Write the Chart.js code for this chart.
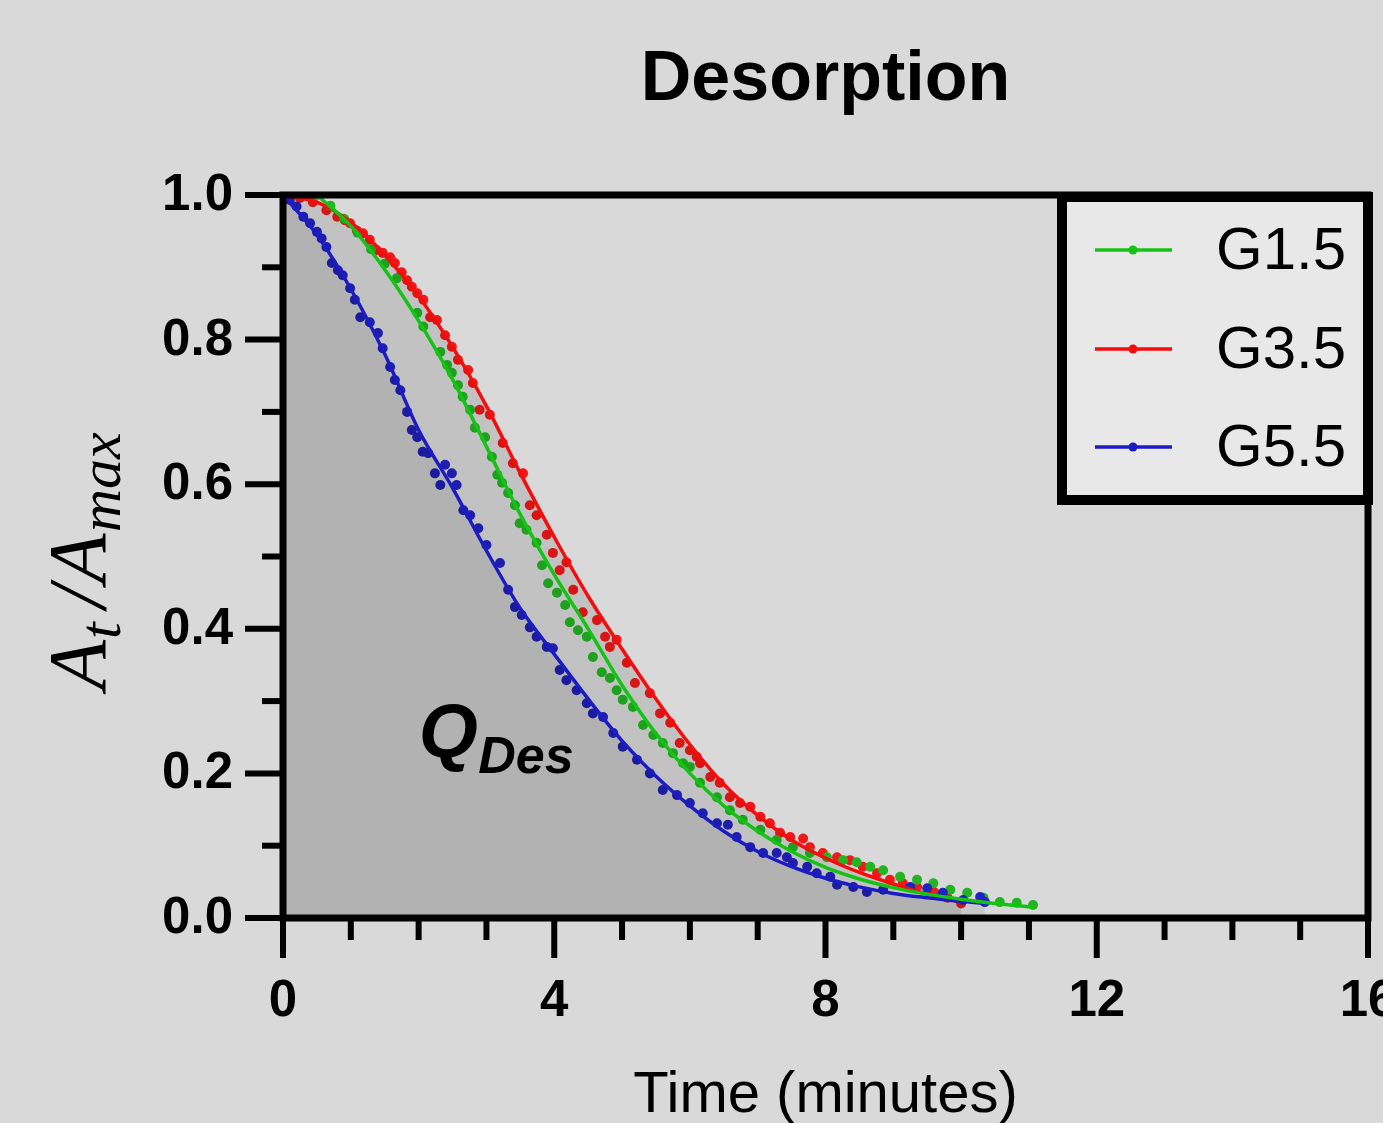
<!DOCTYPE html>
<html>
<head>
<meta charset="utf-8">
<title>Desorption</title>
<script src="https://cdn.jsdelivr.net/npm/chart.js@4.4.1/dist/chart.umd.min.js"></script>
<style>
  html, body { margin: 0; padding: 0; background: #d9d9d9; }
  canvas { display: block; }
</style>
</head>
<body>
<canvas id="myChart" width="1383" height="1123"></canvas>
<script>
'use strict';

// ---- data ----
var seriesNames = ['G1.5', 'G3.5', 'G5.5'];
var xTickLabels = [0, 4, 8, 12, 16];
var yTickLabels = ['0.0', '0.2', '0.4', '0.6', '0.8', '1.0'];

// measured points [time (min), At/Amax]
var g15Dots = [[0.5,1.0],[0.7,0.985],[0.9,0.967],[1.1,0.948],[1.3,0.925],[1.5,0.905],[1.68,0.885],[1.98,0.837],[2.07,0.818],[2.32,0.783],[2.42,0.765],[2.49,0.754],[2.58,0.737],[2.65,0.721],[2.76,0.703],[2.83,0.678],[2.98,0.665],[3.08,0.638],[3.16,0.613],[3.23,0.602],[3.32,0.588],[3.42,0.571],[3.49,0.546],[3.59,0.537],[3.74,0.519],[3.82,0.488],[3.91,0.463],[4.04,0.45],[4.16,0.433],[4.23,0.409],[4.35,0.398],[4.48,0.389],[4.57,0.361],[4.7,0.34],[4.82,0.332],[4.92,0.315],[5.01,0.302],[5.16,0.292],[5.31,0.267],[5.46,0.253],[5.6,0.242],[5.75,0.228],[5.9,0.214],[6.0,0.209],[6.15,0.187],[6.4,0.167],[6.59,0.149],[6.78,0.136],[7.04,0.122],[7.28,0.108],[7.52,0.098],[7.77,0.09],[8.02,0.084],[8.26,0.08],[8.46,0.077],[8.66,0.071],[8.85,0.066],[9.1,0.057],[9.35,0.053],[9.59,0.048],[9.84,0.039],[10.09,0.035],[10.33,0.028],[10.57,0.022],[10.82,0.021],[11.06,0.018]];
var g35Dots = [[0.06,0.997],[0.25,0.996],[0.44,0.99],[0.64,0.979],[0.8,0.97],[0.91,0.965],[0.99,0.961],[1.09,0.951],[1.18,0.947],[1.28,0.938],[1.38,0.924],[1.47,0.92],[1.58,0.914],[1.65,0.906],[1.75,0.893],[1.83,0.882],[1.9,0.873],[1.98,0.864],[2.07,0.855],[2.17,0.831],[2.27,0.827],[2.39,0.806],[2.49,0.79],[2.58,0.772],[2.73,0.758],[2.8,0.74],[2.9,0.703],[3.05,0.696],[3.24,0.657],[3.39,0.629],[3.54,0.615],[3.64,0.571],[3.74,0.557],[3.89,0.53],[3.98,0.505],[4.08,0.481],[4.18,0.492],[4.28,0.454],[4.42,0.423],[4.63,0.412],[4.75,0.389],[4.82,0.375],[4.92,0.385],[5.07,0.353],[5.19,0.325],[5.41,0.311],[5.56,0.283],[5.71,0.27],[5.85,0.242],[6.0,0.232],[6.1,0.223],[6.15,0.214],[6.3,0.195],[6.44,0.187],[6.59,0.167],[6.74,0.159],[6.89,0.154],[7.04,0.14],[7.18,0.131],[7.33,0.118],[7.48,0.112],[7.67,0.11],[7.77,0.098],[7.96,0.09],[8.17,0.084],[8.36,0.08],[8.55,0.071],[8.76,0.062],[8.95,0.053],[9.14,0.048],[9.35,0.043],[9.6,0.036],[9.8,0.028],[10.0,0.02]];
var g55Dots = [[0,1.0],[0.1,0.993],[0.2,0.984],[0.3,0.97],[0.4,0.961],[0.5,0.949],[0.57,0.94],[0.64,0.928],[0.72,0.906],[0.81,0.896],[0.88,0.889],[0.99,0.871],[1.06,0.855],[1.14,0.831],[1.28,0.824],[1.4,0.809],[1.47,0.788],[1.58,0.762],[1.65,0.744],[1.73,0.73],[1.83,0.7],[1.9,0.675],[1.98,0.665],[2.06,0.645],[2.14,0.643],[2.24,0.615],[2.32,0.599],[2.39,0.627],[2.49,0.615],[2.56,0.599],[2.66,0.564],[2.76,0.557],[2.88,0.539],[3.0,0.516],[3.2,0.491],[3.32,0.454],[3.42,0.43],[3.52,0.419],[3.64,0.402],[3.74,0.389],[3.89,0.375],[3.98,0.373],[4.08,0.343],[4.18,0.329],[4.33,0.315],[4.48,0.297],[4.57,0.283],[4.72,0.278],[4.87,0.256],[5.01,0.237],[5.22,0.219],[5.41,0.2],[5.6,0.177],[5.81,0.17],[6.0,0.159],[6.19,0.145],[6.4,0.131],[6.56,0.129],[6.69,0.112],[6.89,0.098],[7.08,0.09],[7.28,0.09],[7.43,0.084],[7.52,0.076],[7.73,0.071],[7.87,0.062],[8.07,0.057],[8.17,0.046],[8.41,0.043],[8.61,0.036],[8.85,0.039],[9.25,0.043],[9.5,0.041],[9.73,0.035],[10.03,0.025],[10.28,0.029],[10.35,0.022]];

// fitted curves as drawn in the figure
var g15Fit = [[0.5,1.0],[1.0,0.957],[1.5,0.897],[2.0,0.826],[2.5,0.745],[3.0,0.652],[3.5,0.558],[4.0,0.475],[4.5,0.4],[5.0,0.322],[5.5,0.255],[6.0,0.2],[6.5,0.155],[7.0,0.12],[7.5,0.092],[8.0,0.07],[8.5,0.054],[9.0,0.042],[9.5,0.033],[10.0,0.026],[10.5,0.02],[11.06,0.015]];
var g35Fit = [[0,1.0],[0.5,0.99],[1.0,0.962],[1.5,0.917],[2.0,0.86],[2.5,0.79],[3.0,0.708],[3.5,0.615],[4.0,0.527],[4.5,0.445],[5.0,0.372],[5.5,0.303],[6.0,0.24],[6.5,0.185],[7.0,0.142],[7.5,0.108],[8.0,0.083],[8.5,0.063],[9.0,0.047],[9.5,0.033],[10.0,0.022]];
var g55Fit = [[0,1.0],[0.5,0.945],[1.0,0.87],[1.5,0.78],[2.0,0.675],[2.5,0.595],[3.0,0.508],[3.5,0.428],[4.0,0.365],[4.5,0.303],[5.0,0.245],[5.5,0.196],[6.0,0.155],[6.5,0.12],[7.0,0.092],[7.5,0.071],[8.0,0.055],[8.5,0.043],[9.0,0.034],[9.5,0.028],[10.0,0.023],[10.35,0.02]];

var lineColors = ['#14c314', '#f50d0d', '#1c1cc4'];
var dotColors = ['#22b422', '#f01818', '#2222c0'];

function toXY(arr) {
  return arr.map(function (p) { return { x: p[0], y: p[1] }; });
}

function dots(i, data, order) {
  return {
    label: seriesNames[i] + ' data',
    data: toXY(data),
    showLine: false,
    pointRadius: 5,
    pointBorderWidth: 0,
    pointBackgroundColor: dotColors[i],
    order: order
  };
}

function fit(i, data, order, fillColor) {
  return {
    label: seriesNames[i],
    data: toXY(data),
    showLine: true,
    borderColor: lineColors[i],
    borderWidth: 3.5,
    pointRadius: 0,
    tension: 0.4,
    cubicInterpolationMode: 'monotone',
    fill: fillColor ? 'origin' : false,
    backgroundColor: fillColor || 'transparent',
    order: order
  };
}

var FONT = 'Arial, "Liberation Sans", sans-serif';

// axes, ticks, labels, legend and annotation
var decor = {
  id: 'decor',
  beforeDraw: function (chart) {
    var c = chart.ctx;
    c.save();
    c.fillStyle = '#d9d9d9';
    c.fillRect(0, 0, chart.width, chart.height);
    c.restore();
  },
  afterDatasetsDraw: function (chart) {
    var c = chart.ctx;
    var a = chart.chartArea;
    var xs = chart.scales.x;
    var ys = chart.scales.y;
    c.save();
    c.fillStyle = '#000';
    c.strokeStyle = '#000';

    // Q_Des
    c.textAlign = 'left';
    c.textBaseline = 'alphabetic';
    c.font = 'italic bold 76px ' + FONT;
    c.fillText('Q', xs.getPixelForValue(2.0), ys.getPixelForValue(0.222));
    c.font = 'italic bold 52px ' + FONT;
    c.fillText('Des', xs.getPixelForValue(2.88), ys.getPixelForValue(0.2));

    // frame
    c.lineWidth = 7;
    c.strokeRect(a.left, a.top, a.right - a.left, a.bottom - a.top);

    // ticks
    c.lineWidth = 6;
    c.lineCap = 'butt';
    var v, px, major;
    for (v = 0; v <= 16; v++) {
      px = xs.getPixelForValue(v);
      major = v % 4 === 0;
      c.beginPath();
      c.moveTo(px, a.bottom);
      c.lineTo(px, a.bottom + (major ? 40 : 22));
      c.stroke();
    }
    for (v = 0; v <= 10; v++) {
      px = ys.getPixelForValue(v / 10);
      major = v % 2 === 0;
      c.beginPath();
      c.moveTo(a.left, px);
      c.lineTo(a.left - (major ? 38 : 21), px);
      c.stroke();
    }

    // tick labels
    c.font = 'bold 51px ' + FONT;
    c.textAlign = 'center';
    c.textBaseline = 'middle';
    xTickLabels.forEach(function (t) {
      c.fillText(String(t), xs.getPixelForValue(t), 1002);
    });
    c.textAlign = 'right';
    yTickLabels.forEach(function (t) {
      c.fillText(t, 233, ys.getPixelForValue(parseFloat(t)) + 1);
    });

    // title
    var cx = (a.left + a.right) / 2;
    c.textAlign = 'center';
    c.textBaseline = 'alphabetic';
    c.font = 'bold 70px ' + FONT;
    c.fillText('Desorption', cx, 100);

    // x axis title
    c.font = '58px ' + FONT;
    c.fillText('Time (minutes)', cx, 1112);

    // y axis title  A_t / A_max  (italic serif)
    c.save();
    c.translate(105, 690);
    c.rotate(-Math.PI / 2);
    c.textAlign = 'left';
    var big = 'italic 82px "Liberation Serif", "Times New Roman", serif';
    var small = 'italic 60px "Liberation Serif", "Times New Roman", serif';
    var x = 0;
    c.font = big; c.fillText('A', x, 0); x += c.measureText('A').width + 1;
    c.font = small; c.fillText('t', x, 15); x += c.measureText('t').width + 14;
    c.font = big; c.fillText('/', x, 0); x += c.measureText('/').width + 2;
    c.fillText('A', x, 0); x += c.measureText('A').width + 1;
    c.font = small; c.fillText('max', x, 15);
    c.restore();

    // legend
    c.lineWidth = 10;
    c.fillStyle = '#e8e8e8';
    c.fillRect(1062, 197, 306, 303);
    c.strokeRect(1062, 197, 306, 303);
    var rows = [250, 349, 447];
    c.font = '60px ' + FONT;
    c.textAlign = 'left';
    c.textBaseline = 'middle';
    seriesNames.forEach(function (name, i) {
      var y = rows[i];
      c.strokeStyle = lineColors[i];
      c.lineWidth = 3.5;
      c.beginPath();
      c.moveTo(1095, y);
      c.lineTo(1172, y);
      c.stroke();
      c.fillStyle = lineColors[i];
      c.beginPath();
      c.arc(1133, y, 4.5, 0, Math.PI * 2);
      c.fill();
      c.fillStyle = '#000';
      c.fillText(name, 1216, y + 2);
    });

    c.restore();
  }
};

var ctx = document.getElementById('myChart').getContext('2d');
var chart = new Chart(ctx, {
  type: 'scatter',
  data: {
    datasets: [
      dots(1, g35Dots, 9),
      dots(0, g15Dots, 8),
      dots(2, g55Dots, 7),
      fit(1, g35Fit, 5, 'rgba(0, 0, 0, 0.10)'),
      fit(2, g55Fit, 4, 'rgba(0, 0, 0, 0.08)'),
      fit(0, g15Fit, 3, null)
    ]
  },
  options: {
    responsive: false,
    animation: false,
    events: [],
    layout: {
      padding: { left: 283, right: 15, top: 195, bottom: 205 }
    },
    scales: {
      x: { type: 'linear', min: 0, max: 16, display: false },
      y: { type: 'linear', min: 0, max: 1, display: false }
    },
    plugins: {
      legend: { display: false },
      tooltip: { enabled: false },
      filler: { drawTime: 'beforeDatasetDraw' }
    }
  },
  plugins: [decor]
});
</script>
</body>
</html>
